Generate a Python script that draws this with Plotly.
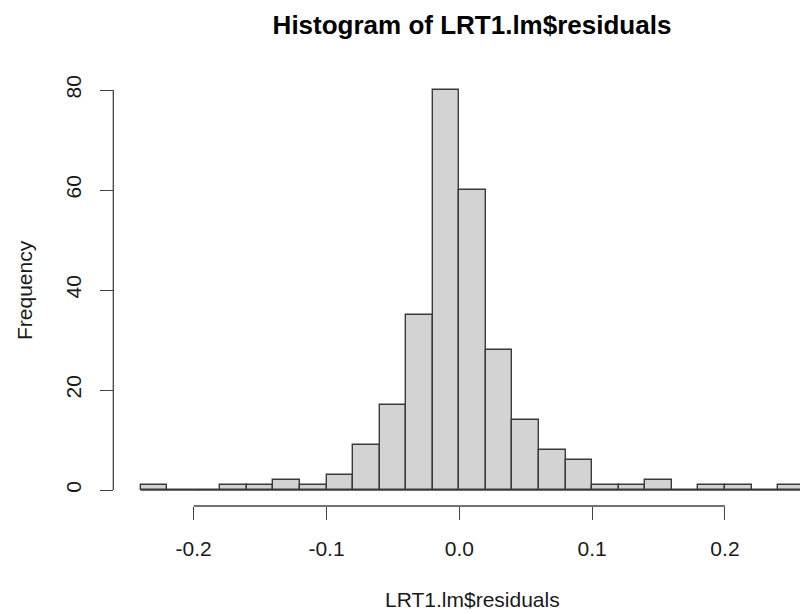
import plotly.graph_objects as go

# Histogram data (bin width 0.02 starting at -0.24)
bin_start = -0.24
bin_width = 0.02
counts = [1, 0, 0, 1, 1, 2, 1, 3, 9, 17, 35, 80, 60, 28, 14, 8, 6, 1, 1, 2, 0, 1, 1, 0, 1]
x_ticks = [-0.2, -0.1, 0.0, 0.1, 0.2]
x_ticklabels = ["-0.2", "-0.1", "0.0", "0.1", "0.2"]
y_ticks = [0, 20, 40, 60, 80]

edges = [round(bin_start + i * bin_width, 4) for i in range(len(counts) + 1)]
centers = [(edges[i] + edges[i + 1]) / 2 for i in range(len(counts))]

W, H = 800, 614
L, R, T, B = 114, 0, 74, 108
pw, ph = W - L - R, H - T - B

font = "Liberation Sans, Arial, Helvetica, sans-serif"
axcol = "#444444"
txtcol = "#1a1a1a"

fig = go.Figure()
fig.add_trace(go.Bar(
    x=centers, y=counts, width=bin_width,
    marker=dict(color="#D3D3D3", line=dict(color="#3a3a3a", width=1.4)),
    hoverinfo="x+y", showlegend=False,
))

shapes = [
    # baseline under zero-count bins
    dict(type="line", xref="x", yref="y", x0=edges[0], x1=edges[-1], y0=0, y1=0,
         line=dict(color="#3a3a3a", width=1.4), layer="below"),
    # y axis line
    dict(type="line", xref="paper", yref="y", x0=-0.001, x1=-0.001, y0=y_ticks[0], y1=y_ticks[-1],
         line=dict(color=axcol, width=1.3)),
    # x axis line
    dict(type="line", xref="x", yref="paper", x0=x_ticks[0], x1=x_ticks[-1], y0=0, y1=0,
         line=dict(color=axcol, width=1.3)),
]

fig.update_layout(
    width=W, height=H,
    margin=dict(l=L, r=R, t=T, b=B),
    paper_bgcolor="white", plot_bgcolor="white",
    bargap=0,
    shapes=shapes,
    title=dict(text="<b>Histogram of LRT1.lm$residuals</b>", x=472 / W, xanchor="center",
               xref="container", y=1 - 25 / H, yanchor="middle", yref="container",
               font=dict(family=font, size=26, color="black")),
    xaxis=dict(range=[-0.26, (W - 459.5) / 1327.5], tickvals=x_ticks, ticktext=x_ticklabels,
               showgrid=False, zeroline=False, showline=False,
               ticks="outside", ticklen=13, tickwidth=1.3, tickcolor=axcol,
               ticklabelstandoff=11,
               tickfont=dict(family=font, size=21, color=txtcol)),
    yaxis=dict(range=[-3.2, 83.2], tickvals=y_ticks, showgrid=False, zeroline=False, showline=False,
               ticks="outside", ticklen=13, tickwidth=1.3, tickcolor=axcol, tickangle=-90,
               ticklabelstandoff=11,
               tickfont=dict(family=font, size=21, color=txtcol)),
    annotations=[
        dict(text="LRT1.lm$residuals", xref="paper", yref="paper",
             x=(472 - L) / pw, y=(H - B - 599) / ph, showarrow=False,
             xanchor="center", yanchor="middle",
             font=dict(family=font, size=21, color=txtcol)),
        dict(text="Frequency", xref="paper", yref="paper",
             x=(24 - L) / pw, y=(H - B - 290) / ph, showarrow=False, textangle=-90,
             xanchor="center", yanchor="middle",
             font=dict(family=font, size=21, color=txtcol)),
    ],
)

fig.write_html("out.html")
